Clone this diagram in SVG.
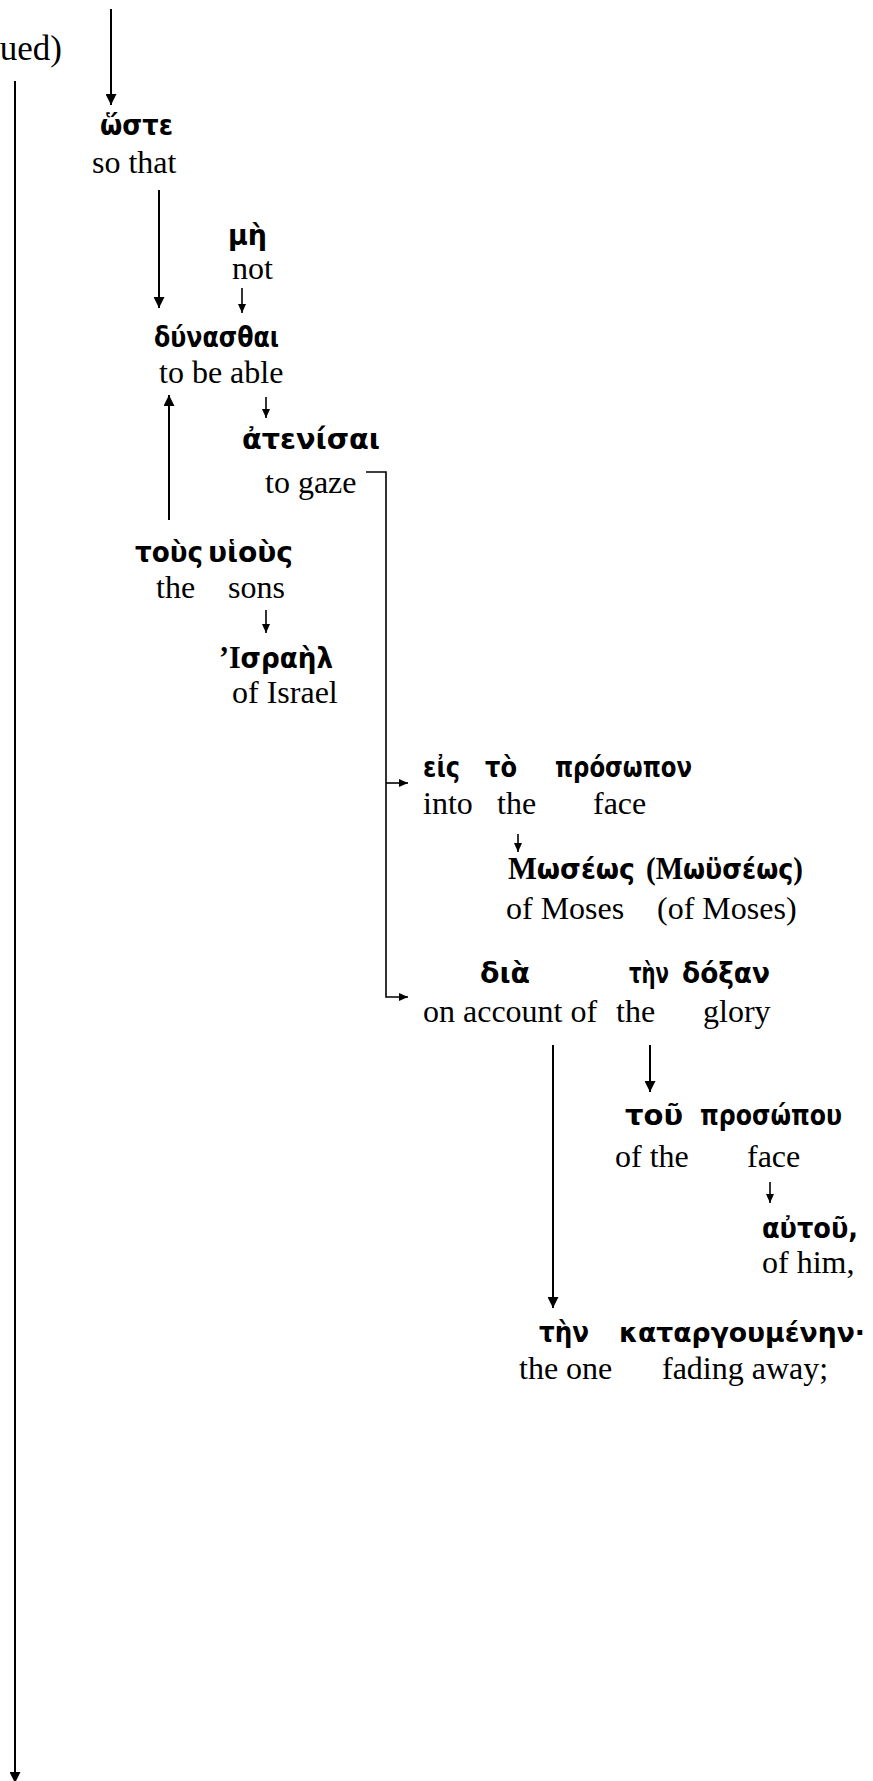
<svg xmlns="http://www.w3.org/2000/svg" width="873" height="1781" viewBox="0 0 873 1781">
<style>
.en{font-family:"Liberation Serif","Times New Roman",serif;font-size:32px;fill:#000}
.gk{font-family:"DejaVu Sans","Noto Sans",sans-serif;font-weight:bold;font-size:28px;fill:#000}
.gs{font-family:"Liberation Serif","Times New Roman",serif;font-weight:bold;font-size:32px}
.ln{fill:none;stroke:#000;stroke-width:2}
.sm{fill:none;stroke:#000;stroke-width:1.6}
</style>
<defs>
<marker id="ah" markerUnits="userSpaceOnUse" markerWidth="11" markerHeight="11" refX="11" refY="5.5" orient="auto">
<path d="M0,0 L11,5.5 L0,11 z" fill="#000"/>
</marker>
<marker id="as" markerUnits="userSpaceOnUse" markerWidth="9" markerHeight="8" refX="9" refY="4" orient="auto">
<path d="M0,0 L9,4 L0,8 z" fill="#000"/>
</marker>
</defs>
<rect width="873" height="1781" fill="#fff"/>
<g id="connectors">
<line class="ln" x1="111" y1="9" x2="111" y2="105" marker-end="url(#ah)"/>
<line class="ln" x1="15" y1="81" x2="15" y2="1783" marker-end="url(#ah)"/>
<line class="ln" x1="159" y1="190" x2="159" y2="308" marker-end="url(#ah)"/>
<line class="sm" x1="242" y1="288" x2="242" y2="313" marker-end="url(#as)"/>
<line class="ln" x1="169" y1="520" x2="169" y2="395" marker-end="url(#ah)"/>
<line class="sm" x1="266" y1="397" x2="266" y2="418" marker-end="url(#as)"/>
<polyline class="sm" points="366,472 386,472 386,997 408,997" marker-end="url(#as)"/>
<line class="sm" x1="386" y1="783" x2="408" y2="783" marker-end="url(#as)"/>
<line class="sm" x1="266" y1="610" x2="266" y2="633" marker-end="url(#as)"/>
<line class="sm" x1="518" y1="834" x2="518" y2="852" marker-end="url(#as)"/>
<line class="ln" x1="553" y1="1045" x2="553" y2="1308" marker-end="url(#ah)"/>
<line class="ln" x1="650" y1="1045" x2="650" y2="1092" marker-end="url(#ah)"/>
<line class="sm" x1="770" y1="1182" x2="770" y2="1203" marker-end="url(#as)"/>
</g>
<g id="n-continued"><text class="en" style="font-size:35px" x="62" y="60" text-anchor="end">ued)</text></g>
<g id="n-hoste">
<text class="gk" x="100" y="135" textLength="73" lengthAdjust="spacingAndGlyphs">ὥστε</text>
<text class="en" x="92" y="173">so that</text>
</g>
<g id="n-me">
<text class="gk" x="228" y="245" textLength="39" lengthAdjust="spacingAndGlyphs">μὴ</text>
<text class="en" x="232" y="279">not</text>
</g>
<g id="n-dynasthai">
<text class="gk" x="154" y="347" textLength="125" lengthAdjust="spacingAndGlyphs">δύνασθαι</text>
<text class="en" x="159" y="383">to be able</text>
</g>
<g id="n-atenisai">
<text class="gk" x="242" y="449" textLength="138" lengthAdjust="spacingAndGlyphs">ἀτενίσαι</text>
<text class="en" x="265" y="493">to gaze</text>
</g>
<g id="n-tous-huious">
<text class="gk" x="135" y="562" textLength="68" lengthAdjust="spacingAndGlyphs">τοὺς</text>
<text class="gk" x="208" y="562" textLength="85" lengthAdjust="spacingAndGlyphs">υἱοὺς</text>
<text class="en" x="156" y="598">the</text>
<text class="en" x="228" y="598">sons</text>
</g>
<g id="n-israel">
<text class="gk" x="219" y="668" textLength="114" lengthAdjust="spacingAndGlyphs"><tspan class="gs">’Ι</tspan>σραὴλ</text>
<text class="en" x="232" y="703">of Israel</text>
</g>
<g id="n-eis-prosopon">
<text class="gk" x="423" y="777" textLength="37" lengthAdjust="spacingAndGlyphs">εἰς</text>
<text class="gk" x="485" y="777" textLength="32" lengthAdjust="spacingAndGlyphs">τὸ</text>
<text class="gk" x="555" y="777" textLength="137" lengthAdjust="spacingAndGlyphs">πρόσωπον</text>
<text class="en" x="423" y="814">into</text>
<text class="en" x="497" y="814">the</text>
<text class="en" x="593" y="814">face</text>
</g>
<g id="n-moseos">
<text class="gk" x="508" y="879" textLength="127" lengthAdjust="spacingAndGlyphs"><tspan class="gs">Μ</tspan>ωσέως</text>
<text class="gk" x="646" y="879" textLength="157" lengthAdjust="spacingAndGlyphs"><tspan class="gs">(Μ</tspan>ωϋσέως<tspan class="gs">)</tspan></text>
<text class="en" x="506" y="919">of Moses</text>
<text class="en" x="657" y="919">(of Moses)</text>
</g>
<g id="n-dia-doxan">
<text class="gk" x="480" y="983" textLength="50" lengthAdjust="spacingAndGlyphs">διὰ</text>
<text class="gk" x="629" y="983" textLength="40" lengthAdjust="spacingAndGlyphs">τὴν</text>
<text class="gk" x="682" y="983" textLength="88" lengthAdjust="spacingAndGlyphs">δόξαν</text>
<text class="en" x="423" y="1022">on account of</text>
<text class="en" x="616" y="1022">the</text>
<text class="en" x="703" y="1022">glory</text>
</g>
<g id="n-tou-prosopou">
<text class="gk" x="625" y="1125" textLength="58" lengthAdjust="spacingAndGlyphs">τοῦ</text>
<text class="gk" x="700" y="1125" textLength="142" lengthAdjust="spacingAndGlyphs">προσώπου</text>
<text class="en" x="615" y="1167">of the</text>
<text class="en" x="747" y="1167">face</text>
</g>
<g id="n-autou">
<text class="gk" x="762" y="1238" textLength="96" lengthAdjust="spacingAndGlyphs">αὐτοῦ,</text>
<text class="en" x="762" y="1273">of him,</text>
</g>
<g id="n-katargoumenen">
<text class="gk" x="539" y="1342" textLength="50" lengthAdjust="spacingAndGlyphs">τὴν</text>
<text class="gk" style="font-size:26px" x="619" y="1342" textLength="246" lengthAdjust="spacingAndGlyphs">καταργουμένην·</text>
<text class="en" x="519" y="1379">the one</text>
<text class="en" x="662" y="1379">fading away;</text>
</g>
</svg>
